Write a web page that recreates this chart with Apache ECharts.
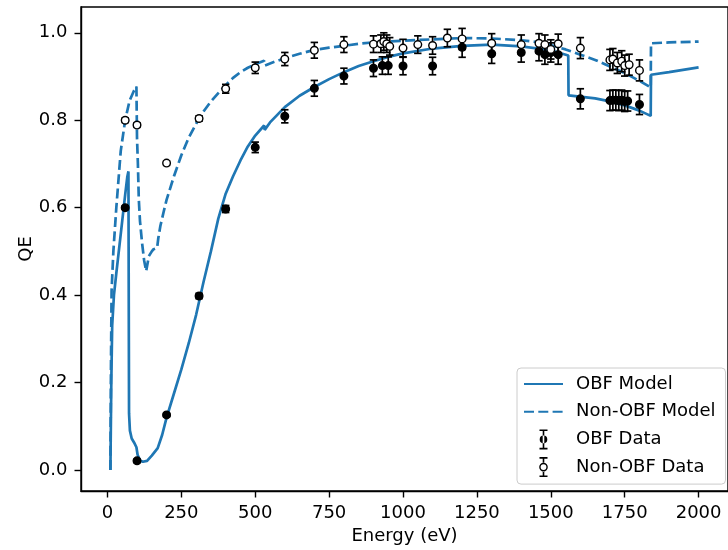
<!DOCTYPE html>
<html>
<head>
<meta charset="utf-8">
<script src="https://cdn.jsdelivr.net/npm/echarts@6/dist/echarts.min.js"></script>
<style>html,body{margin:0;padding:0;background:#fff}#c{width:728px;height:550px}</style>
</head>
<body>
<div id="c"></div>
<script>
// ---- Model curves (energy eV, QE) ----
const obfModelE  = [10,13,16,22,30,40,50,60,67,71,73,76,82,90,98,102,105,110,120,134,150,170,185,200,225,250,275,300,325,350,375,400,425,450,475,500,530,532,550,600,650,700,750,800,850,900,950,1000,1100,1200,1300,1400,1500,1559,1560,1650,1700,1750,1800,1838,1839,1900,2000];
const obfModelQE = [0.0,0.2,0.33,0.40,0.45,0.51,0.57,0.63,0.67,0.683,0.13,0.09,0.072,0.063,0.052,0.035,0.03,0.022,0.019,0.021,0.033,0.05,0.08,0.12,0.175,0.23,0.29,0.355,0.43,0.50,0.575,0.632,0.672,0.708,0.74,0.765,0.788,0.778,0.795,0.83,0.856,0.876,0.894,0.91,0.924,0.935,0.945,0.953,0.964,0.97,0.973,0.969,0.96,0.948,0.857,0.85,0.843,0.834,0.822,0.81,0.904,0.91,0.921];

const nonObfModelE  = [10,12,14,20,30,45,60,75,90,98,100,103,106,110,117,124,131,135,140,150,156,168,172,179,190,200,225,250,275,300,325,350,375,400,425,450,475,500,530,532,550,600,650,700,750,800,850,900,950,1000,1100,1200,1300,1400,1450,1500,1550,1600,1650,1700,1750,1800,1838,1839,1900,2000];
const nonObfModelQE = [0.0,0.25,0.41,0.50,0.60,0.73,0.80,0.845,0.868,0.877,0.76,0.70,0.62,0.57,0.52,0.48,0.455,0.47,0.489,0.50,0.505,0.508,0.53,0.558,0.59,0.618,0.672,0.72,0.76,0.792,0.82,0.843,0.862,0.88,0.897,0.91,0.92,0.928,0.936,0.925,0.93,0.942,0.952,0.961,0.966,0.97,0.975,0.978,0.98,0.982,0.985,0.988,0.987,0.983,0.979,0.972,0.962,0.95,0.938,0.923,0.908,0.89,0.875,0.976,0.978,0.98];

// ---- Measured data (energy eV, QE, error) ----
const obfDataE   = [60,100,200,310,400,500,600,700,800,900,930,950,1000,1100,1200,1300,1400,1460,1480,1500,1525,1600,1700,1710,1720,1730,1740,1750,1760,1800];
const obfDataQE  = [0.600,0.021,0.126,0.398,0.597,0.738,0.809,0.873,0.901,0.919,0.925,0.925,0.924,0.924,0.967,0.952,0.955,0.958,0.950,0.955,0.950,0.849,0.845,0.846,0.846,0.845,0.846,0.843,0.844,0.836];
const obfDataErr = [0.004,0.004,0.004,0.006,0.008,0.012,0.015,0.018,0.018,0.019,0.02,0.02,0.02,0.02,0.023,0.022,0.022,0.022,0.022,0.022,0.022,0.023,0.023,0.023,0.023,0.023,0.023,0.023,0.023,0.023];

const nonObfDataE   = [60,100,200,310,400,500,600,700,800,900,925,935,945,955,1000,1050,1100,1150,1200,1300,1400,1460,1480,1500,1525,1600,1700,1710,1725,1740,1750,1765,1800];
const nonObfDataQE  = [0.800,0.789,0.702,0.804,0.872,0.920,0.940,0.960,0.973,0.974,0.975,0.980,0.975,0.969,0.965,0.973,0.971,0.988,0.986,0.976,0.973,0.976,0.973,0.962,0.975,0.965,0.938,0.940,0.931,0.935,0.925,0.927,0.914];
const nonObfDataErr = [0.005,0.005,0.005,0.006,0.01,0.013,0.015,0.018,0.018,0.019,0.02,0.02,0.02,0.02,0.02,0.02,0.02,0.02,0.024,0.022,0.022,0.022,0.022,0.022,0.022,0.024,0.024,0.024,0.024,0.024,0.024,0.024,0.024];

const xTicks = [0,250,500,750,1000,1250,1500,1750,2000];
const yTicks = [0.0,0.2,0.4,0.6,0.8,1.0];

const FONT = 'DejaVu Sans';
const BLUE = '#1f77b4';

function pairs(xs, ys){ return xs.map((x,i)=>[x, ys[i]]); }
function triples(xs, ys, es){ return xs.map((x,i)=>[x, ys[i], es[i]]); }

function errRender(filled){
  return function(params, api){
    const x = api.value(0), y = api.value(1), e = api.value(2);
    const c = api.coord([x, y]);
    const t = api.coord([x, y + e]);
    const b = api.coord([x, y - e]);
    const cw = 3.7;
    const ls = {stroke:'#000', lineWidth:1.7};
    return {type:'group', children:[
      {type:'line', shape:{x1:c[0], y1:t[1], x2:c[0], y2:b[1]}, style:ls},
      {type:'line', shape:{x1:c[0]-cw, y1:t[1], x2:c[0]+cw, y2:t[1]}, style:ls},
      {type:'line', shape:{x1:c[0]-cw, y1:b[1], x2:c[0]+cw, y2:b[1]}, style:ls},
      {type:'circle', shape:{cx:c[0], cy:c[1], r:3.8}, style:{fill: filled ? '#000' : '#fff', stroke:'#000', lineWidth:1.4}}
    ]};
  };
}

const iconFilled = 'path://M0,0 H8 V1.6 H0 Z M3.2,0 H4.8 V20 H3.2 Z M0,18.4 H8 V20 H0 Z M0.2,10 A3.8,3.8 0 1,0 7.8,10 A3.8,3.8 0 1,0 0.2,10 Z';
const iconOpen = 'path://M0,0 H8 V1.6 H0 Z M3.2,0 H4.8 V6 H3.2 Z M3.2,14 H4.8 V20 H3.2 Z M0,18.4 H8 V20 H0 Z M-0.3,10 A4.3,4.3 0 1,0 8.3,10 A4.3,4.3 0 1,0 -0.3,10 Z M1.1,10 A2.9,2.9 0 1,1 6.9,10 A2.9,2.9 0 1,1 1.1,10 Z';

const axisCommon = {
  nameLocation: 'middle',
  nameMoveOverlap: false,
  nameTextStyle: {fontFamily: FONT, fontSize: 18, color: '#000'},
  axisLine: {show: true, onZero: false, lineStyle: {color: '#000', width: 1.4}},
  splitLine: {show: false}
};

const chart = echarts.init(document.getElementById('c'), null, {renderer:'canvas'});
chart.setOption({
  animation: false,
  backgroundColor: '#fff',
  textStyle: {fontFamily: FONT},
  grid: {left: 81, top: 7, width: 651, height: 485, show: true, borderColor: '#000', borderWidth: 1.4, backgroundColor: 'transparent'},
  xAxis: Object.assign({}, axisCommon, {
    type: 'value', min: -89.5, max: 2099.5, position: 'bottom',
    name: 'Energy (eV)', nameGap: 36,
    axisTick: {show: true, inside: false, length: 6.5, lineStyle: {color: '#000', width: 1.4}, customValues: xTicks},
    axisLabel: {margin: 13.5, fontFamily: FONT, fontSize: 18, color: '#000', customValues: xTicks, formatter: v => String(Math.round(v))}
  }),
  yAxis: Object.assign({}, axisCommon, {
    type: 'value', min: -0.048, max: 1.059, position: 'left',
    name: 'QE', nameGap: 46, nameRotate: 90,
    axisTick: {show: true, inside: false, length: 6.5, lineStyle: {color: '#000', width: 1.4}, customValues: yTicks},
    axisLabel: {margin: 13.5, fontFamily: FONT, fontSize: 18, color: '#000', customValues: yTicks, formatter: v => v.toFixed(1)}
  }),
  legend: {
    orient: 'vertical', left: 517, top: 368,
    padding: [6, 10, 7, 6], itemGap: 7.7, itemWidth: 39, itemHeight: 20,
    backgroundColor: 'rgba(255,255,255,0.8)', borderColor: '#cccccc', borderWidth: 1, borderRadius: 4,
    symbolKeepAspect: true,
    textStyle: {fontFamily: FONT, fontSize: 18, color: '#000', lineHeight: 20, padding: [0, 0, 0, 8]},
    data: [
      {name: 'OBF Model', itemStyle: {opacity: 0}},
      {name: 'Non-OBF Model', itemStyle: {opacity: 0}},
      {name: 'OBF Data', icon: iconFilled, itemStyle: {color: '#000', borderWidth: 0}},
      {name: 'Non-OBF Data', icon: iconOpen, itemStyle: {color: '#000', borderWidth: 0}}
    ]
  },
  series: [
    {name: 'OBF Model', type: 'line', data: pairs(obfModelE, obfModelQE), showSymbol: false, symbol: 'none', z: 2,
     color: BLUE, lineStyle: {color: BLUE, width: 2.7, type: 'solid'}},
    {name: 'Non-OBF Model', type: 'line', data: pairs(nonObfModelE, nonObfModelQE), showSymbol: false, symbol: 'none', z: 2,
     color: BLUE, lineStyle: {color: BLUE, width: 2.7, type: [10, 4.3]}},
    {name: 'OBF Data', type: 'custom', data: triples(obfDataE, obfDataQE, obfDataErr), renderItem: errRender(true), z: 3,
     itemStyle: {color: '#000'}, encode: {x: 0, y: 1}},
    {name: 'Non-OBF Data', type: 'custom', data: triples(nonObfDataE, nonObfDataQE, nonObfDataErr), renderItem: errRender(false), z: 4,
     itemStyle: {color: '#000'}, encode: {x: 0, y: 1}}
  ]
});
</script>
</body>
</html>
